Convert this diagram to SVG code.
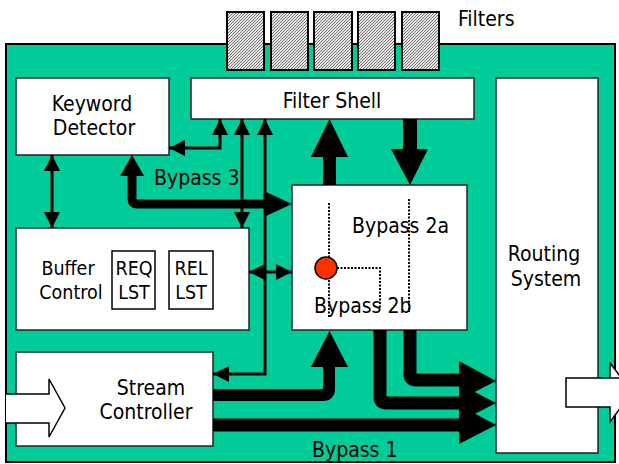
<svg xmlns="http://www.w3.org/2000/svg" width="619" height="464" viewBox="0 0 619 464">
<defs>
<pattern id="hatch" width="3" height="3" patternUnits="userSpaceOnUse">
<rect width="3" height="3" fill="#e8e8e8"/>
<path d="M-1,1 L1,-1 M0,3 L3,0 M2,4 L4,2" stroke="#707070" stroke-width="1"/>
</pattern>
<marker id="ah" viewBox="0 0 16 16" refX="16" refY="8" markerWidth="16" markerHeight="16" markerUnits="userSpaceOnUse" orient="auto-start-reverse">
<path d="M0,0 L16,8 L0,16 z" fill="#000"/>
</marker>
<style>
.box{fill:#fff;stroke:#222;stroke-width:1.5}
.t{font-family:"DejaVu Sans Condensed","DejaVu Sans",sans-serif;font-stretch:condensed;font-size:21px;fill:#000}
.s{font-size:19.5px}
.m{text-anchor:middle}
.thin{fill:none;stroke:#000;stroke-width:3;marker-start:url(#ah);marker-end:url(#ah)}
.thick{fill:none;stroke:#000;stroke-linejoin:round}
.dot{fill:none;stroke:#000;stroke-width:2;stroke-dasharray:2 1.5}
</style>
</defs>
<rect width="619" height="464" fill="#fff"/>
<g id="main">
<rect x="6" y="44" width="609" height="418" fill="#00CC99" stroke="#000" stroke-width="2"/>
</g>
<g id="filters">
<rect x="227" y="12" width="37" height="58" fill="url(#hatch)" stroke="#000" stroke-width="2"/>
<rect x="271" y="12" width="37" height="58" fill="url(#hatch)" stroke="#000" stroke-width="2"/>
<rect x="314" y="12" width="38" height="58" fill="url(#hatch)" stroke="#000" stroke-width="2"/>
<rect x="358" y="12" width="37" height="58" fill="url(#hatch)" stroke="#000" stroke-width="2"/>
<rect x="402" y="12" width="37" height="58" fill="url(#hatch)" stroke="#000" stroke-width="2"/>
<text class="t" x="458" y="26">Filters</text>
</g>
<g id="keyword-detector">
<rect class="box" x="16" y="78" width="153" height="77"/>
<text class="t m" x="92" y="111">Keyword</text>
<text class="t m" x="94" y="135">Detector</text>
</g>
<g id="filter-shell">
<rect class="box" x="191" y="78" width="283" height="41"/>
<text class="t m" x="332" y="108">Filter Shell</text>
</g>
<g id="routing-system">
<rect class="box" x="496" y="78" width="102" height="375"/>
<text class="t m" x="544" y="261">Routing</text>
<text class="t m" x="546" y="286">System</text>
</g>
<g id="buffer-control">
<rect class="box" x="16" y="228" width="233" height="102"/>
<text class="t s m" x="68" y="275">Buffer</text>
<text class="t s m" x="71" y="299">Control</text>
<rect x="112" y="251" width="43" height="58" fill="none" stroke="#000" stroke-width="1.5"/>
<text class="t s m" x="134" y="275">REQ</text>
<text class="t s m" x="134" y="299">LST</text>
<rect x="169" y="251" width="44" height="58" fill="none" stroke="#000" stroke-width="1.5"/>
<text class="t s m" x="191" y="275">REL</text>
<text class="t s m" x="191" y="299">LST</text>
</g>
<g id="stream-controller">
<rect class="box" x="16" y="352" width="197" height="94"/>
<text class="t m" x="151" y="395">Stream</text>
<text class="t m" x="146" y="419">Controller</text>
</g>
<g id="bypass-2">
<rect class="box" x="292" y="185" width="175" height="145"/>
<path class="dot" d="M329,203 V257 M329,280 V317 M337,268 H380 V308 M409,199 V312"/>
<circle cx="326" cy="268" r="11" fill="#FF3300" stroke="#000" stroke-width="1.5"/>
<text class="t" x="352" y="233">Bypass 2a</text>
<text class="t" x="314" y="313">Bypass 2b</text>
</g>
<g id="input-arrow">
<path d="M6,394 H49 V379 L65,408 L49,437 V423 H6" fill="#fff" stroke="#000" stroke-width="1.5"/>
</g>
<g id="output-arrow">
<path d="M619,378 H610 V363 L632,392 L610,422 V407 H566 V378 H610" fill="#fff" stroke="#000" stroke-width="1.5"/>
</g>
<g id="connectors">
<path class="thin" d="M169,148 H220 V119"/>
<path class="thin" d="M242,119 V228"/>
<path class="thin" d="M265,119 V374 H213"/>
<path class="thin" d="M52,155 V228"/>
<path class="thin" d="M249,272 H292"/>
<path class="thick" stroke-width="9" d="M132,172 V199 Q132,204 137,204 H268"/>
<polygon points="132,155 120,176 144,176"/>
<polygon points="292,204 266,192 266,216"/>
<rect x="323" y="155" width="13" height="30"/>
<polygon points="329.5,119 311,157 348,157"/>
<rect x="403" y="119" width="14" height="32"/>
<polygon points="410,185 391,149 428,149"/>
<path class="thick" stroke-width="12" d="M213,395 H323 Q329,395 329,389 V365"/>
<polygon points="329.5,331 311,367 348,367"/>
<path class="thick" stroke-width="13" d="M213,425 H462"/>
<polygon points="496,425 459,405 459,444"/>
<path class="thick" stroke-width="13" d="M380,330 V397 Q380,403 386,403 H462"/>
<polygon points="496,403 459,384 459,422"/>
<path class="thick" stroke-width="13" d="M410,330 V374 Q410,380 416,380 H462"/>
<polygon points="496,381 459,361 459,400"/>
<text class="t" x="154" y="185">Bypass 3</text>
<text class="t" x="312" y="457">Bypass 1</text>
</g>
</svg>
